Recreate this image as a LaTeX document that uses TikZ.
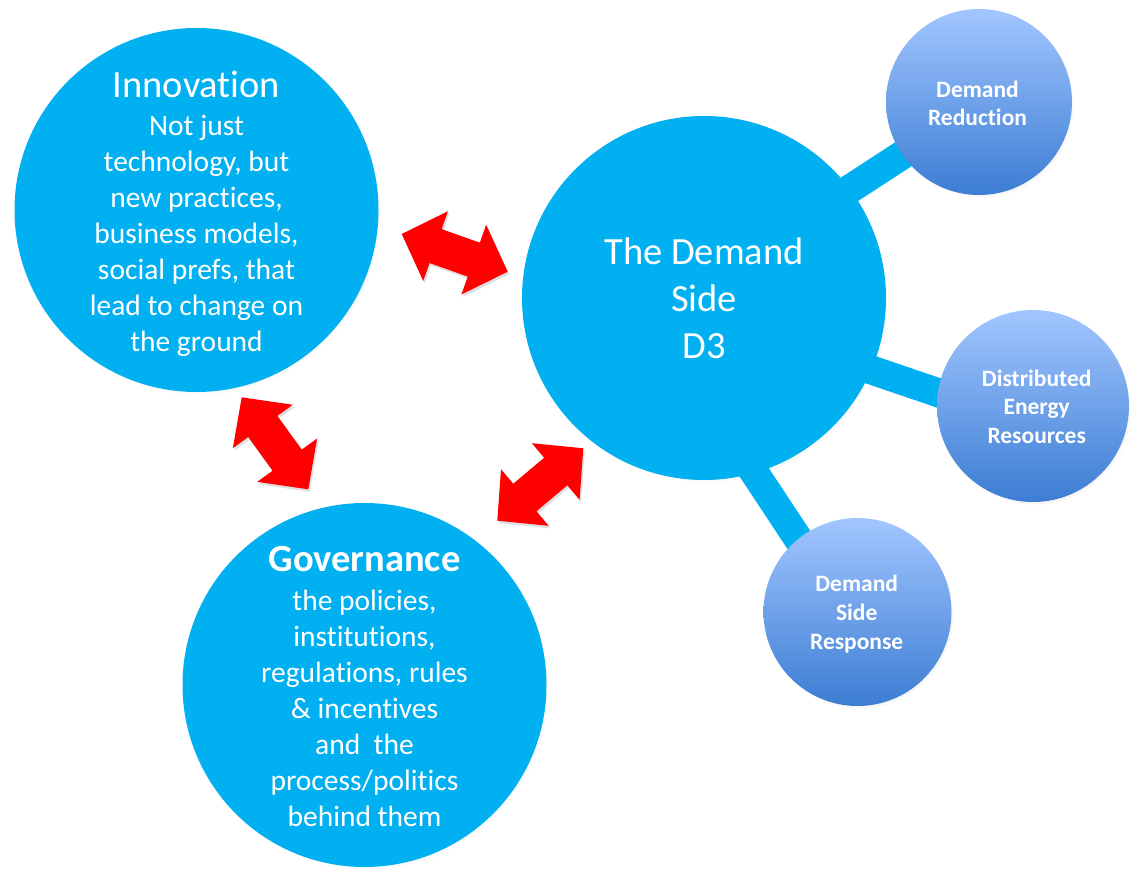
\documentclass[tikz,border=0pt]{standalone}
\usepackage{fontspec}
\setmainfont{Carlito}[Ligatures=NoCommon]
\usetikzlibrary{calc,shadows,backgrounds}
\definecolor{bigblue}{HTML}{00B0F0}
\definecolor{smalltop}{HTML}{A2C6FF}
\definecolor{smallbot}{HTML}{3C7DD3}
\definecolor{arrred}{HTML}{FF0000}
\tikzset{
  bigcircle/.style={circle, fill=bigblue, minimum size=364pt, inner sep=0pt,
    circular drop shadow={shadow xshift=2pt, shadow yshift=-3pt, opacity=0.3, shadow scale=1.0}},
  smallcircle/.style={circle, top color=smalltop, bottom color=smallbot, minimum size=#1, inner sep=0pt,
    circular drop shadow={shadow xshift=2pt, shadow yshift=-3pt, opacity=0.3, shadow scale=1.0}},
  bar/.style={line width=29pt, draw=bigblue},
  titletext/.style={text=white, align=center, inner sep=0pt, font=\fontsize{38.5}{47}\selectfont},
  boldtitle/.style={text=white, align=center, inner sep=0pt, font=\fontsize{38.5}{47}\selectfont\bfseries},
  bodytext/.style={text=white, align=center, inner sep=0pt, font=\fontsize{29.5}{36}\selectfont},
  smalltext/.style={text=white, align=center, inner sep=0pt, font=\fontsize{23.5}{28.6}\selectfont\bfseries},
  redarrow/.style={fill=arrred, drop shadow={shadow xshift=1.5pt, shadow yshift=-2.5pt, opacity=0.25}},
}
\newcommand\dblarrow[2]{%
  \coordinate (a1) at ($(#1)!36pt!(#2)$);
  \coordinate (b1) at ($(#2)!36pt!(#1)$);
  \fill[redarrow] (#1) -- ($(a1)!37pt!90:(#2)$) -- ($(a1)!18pt!90:(#2)$)
    -- ($(b1)!18pt!-90:(#1)$) -- ($(b1)!37pt!-90:(#1)$) -- (#2)
    -- ($(b1)!37pt!90:(#1)$) -- ($(b1)!18pt!90:(#1)$)
    -- ($(a1)!18pt!-90:(#2)$) -- ($(a1)!37pt!-90:(#2)$) -- cycle;
}
\begin{document}
\begin{tikzpicture}[x=1pt, y=-1pt]
\useasboundingbox (0,0) rectangle (1136,869);

% big circles
\node[bigcircle] (inno) at (196.5,210) {};
\node[bigcircle] (ds) at (704,298) {};
\node[bigcircle] (gov) at (364.5,685) {};

% small circles
\node[smallcircle=186pt] (dr) at (979,102) {};
\node[smallcircle=192pt] (der) at (1033,406) {};
\node[smallcircle=188pt] (dsr) at (857.5,612) {};

% background and bars behind
\begin{scope}[on background layer]
\fill[white] (0,0) rectangle (1136,869);
\draw[bar] ($(ds.center)+(0,-14)$) -- ($(dr.center)+(0,3)$);
\draw[bar] ($(ds.center)+(0,15)$) -- ($(der.center)+(0,19)$);
\draw[bar] ($(ds.center)+(-65,0)$) -- ($(dsr.center)+(-11,0)$);
\end{scope}

% texts
\node[titletext] (innotitle) at (196.5,84) {Innovation};
\node[bodytext] (innobody) at (196.5,236) {Not just\\technology, but\\new practices,\\business models,\\social prefs, that\\lead to change on\\the ground};
\node[titletext] (dstext) at (704,298) {The Demand\\Side\\D3};
\node[boldtitle] (govtitle) at (364.5,559) {Governance};
\node[bodytext] (govbody) at (364.5,708) {the policies,\\institutions,\\regulations, rules\\\& incentives\\and~ the\\process/politics\\behind them};
\node[smalltext] (drtext) at (977.5,103.3) {Demand\\Reduction};
\node[smalltext] (dertext) at (1036.7,406.5) {Distributed\\Energy\\Resources};
\node[smalltext] (dsrtext) at (856.7,614) {Demand\\Side\\Response};

% red double arrows
\coordinate (ar1a) at (401.7,234);
\coordinate (ar1b) at (507.7,271.7);
\coordinate (ar2a) at (241.7,397.3);
\coordinate (ar2b) at (308.3,489.3);
\coordinate (ar3a) at (497.3,520.7);
\coordinate (ar3b) at (583.3,448.3);
\dblarrow{ar1a}{ar1b}
\dblarrow{ar2a}{ar2b}
\dblarrow{ar3a}{ar3b}
\end{tikzpicture}
\end{document}
